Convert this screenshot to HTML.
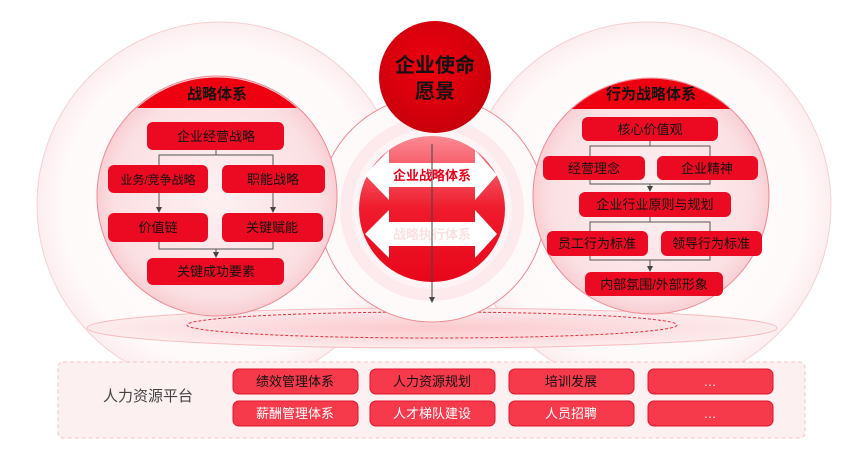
<!DOCTYPE html>
<html><head><meta charset="utf-8"><style>
body{margin:0;width:865px;height:446px;background:#fff;overflow:hidden}
svg text{font-family:"Liberation Sans","Noto Sans CJK SC",sans-serif;}
</style></head><body>
<svg width="865" height="446" viewBox="0 0 865 446" xmlns="http://www.w3.org/2000/svg">
<defs>
<radialGradient id="pale" cx="50%" cy="50%" r="50%"><stop offset="0" stop-color="#fff"/><stop offset="0.85" stop-color="#fffafa"/><stop offset="1" stop-color="#fdeef0"/></radialGradient>
<radialGradient id="sub" cx="50%" cy="50%" r="50%"><stop offset="0" stop-color="#fdf0f1"/><stop offset="0.85" stop-color="#fbe0e3"/><stop offset="1" stop-color="#f8cfd3"/></radialGradient>
<radialGradient id="topc" cx="45%" cy="40%" r="60%"><stop offset="0" stop-color="#f00010"/><stop offset="1" stop-color="#c8000a"/></radialGradient>
<linearGradient id="inner" x1="0" y1="0" x2="0" y2="1"><stop offset="0" stop-color="#fb8a94"/><stop offset="0.5" stop-color="#ef1b2c"/><stop offset="1" stop-color="#e8061a"/></linearGradient>
<radialGradient id="plat" cx="50%" cy="50%" r="50%"><stop offset="0" stop-color="#fbc9cd"/><stop offset="1" stop-color="#fdeced"/></radialGradient>
<marker id="ar" markerWidth="6" markerHeight="6" refX="3" refY="3" orient="auto"><path d="M0,0L6,3L0,6z" fill="#444"/></marker>
</defs>
<circle cx="220" cy="205" r="183" fill="url(#pale)" stroke="#f9cfd3" stroke-width="1"/>
<circle cx="648" cy="205" r="183" fill="url(#pale)" stroke="#f9cfd3" stroke-width="1"/>
<ellipse cx="432" cy="328" rx="345" ry="20" fill="url(#plat)" stroke="#f7bcc1"/>
<ellipse cx="432" cy="325" rx="245" ry="13" fill="none" stroke="#e8303f" stroke-dasharray="3,2"/>
<circle cx="432" cy="209" r="113" fill="#fffafa" stroke="#f08890" stroke-width="1"/>
<circle cx="432" cy="209" r="92" fill="#fdeaec"/>
<circle cx="432" cy="209" r="80" fill="#fef4f5"/>
<circle cx="432" cy="209" r="73" fill="url(#inner)"/>
<circle cx="217" cy="196" r="120" fill="url(#sub)" stroke="#f08a93"/>
<path d="M137,108 A120,120 0 0 1 297,108 Z" fill="#ee0010"/>
<text x="217" y="99" text-anchor="middle" font-size="15" font-weight="bold" fill="#111">战略体系</text>
<circle cx="651" cy="196" r="118" fill="url(#sub)" stroke="#f08a93"/>
<path d="M572,109 A118,118 0 0 1 730,109 Z" fill="#ee0010"/>
<text x="651" y="99" text-anchor="middle" font-size="15" font-weight="bold" fill="#111">行为战略体系</text>
<circle cx="435" cy="77" r="56" fill="url(#topc)"/>
<text x="435" y="72" text-anchor="middle" font-size="20" font-weight="bold" fill="#111">企业使命</text>
<text x="435" y="98" text-anchor="middle" font-size="20" font-weight="bold" fill="#111">愿景</text>
<path d="M365,175 L389,150 L389,163 L475,163 L475,150 L497,175 L475,200 L475,187 L389,187 L389,200 Z" fill="#fff"/>
<text x="432" y="180" text-anchor="middle" font-size="13" font-weight="bold" fill="#e8001a">企业战略体系</text>
<path d="M365,234 L389,210 L389,222 L475,222 L475,210 L497,234 L475,258 L475,246 L389,246 L389,258 Z" fill="#fff"/>
<text x="432" y="239" text-anchor="middle" font-size="13" font-weight="bold" fill="#fbe0e2">战略执行体系</text>
<line x1="432" y1="144" x2="432" y2="300" stroke="#444" stroke-width="1" marker-end="url(#ar)"/>
<g fill="none" stroke="#555" stroke-width="1">
<path d="M216,150V155M159,165V155H273V165"/>
<path d="M159,193V210" marker-end="url(#ar)"/><path d="M273,193V210" marker-end="url(#ar)"/>
<path d="M159,242V249H273V242"/><path d="M216,249V255" marker-end="url(#ar)"/>
<path d="M650,141V146M590,156V146H710V156"/>
<path d="M590,180V184H710V180"/><path d="M650,184V189" marker-end="url(#ar)"/>
<path d="M650,217V222M590,231V222H710V231"/>
<path d="M590,256V260H710V256"/><path d="M650,260V269" marker-end="url(#ar)"/>
</g>
<g fill="#ec0a22">
<rect x="147" y="122" width="137" height="28" rx="6"/>
<rect x="108" y="165" width="100" height="28" rx="6"/>
<rect x="222" y="165" width="103" height="28" rx="6"/>
<rect x="108" y="213" width="100" height="29" rx="6"/>
<rect x="222" y="213" width="101" height="29" rx="6"/>
<rect x="147" y="258" width="137" height="27" rx="6"/>
<rect x="582" y="117" width="136" height="24" rx="6"/>
<rect x="543" y="156" width="102" height="24" rx="6"/>
<rect x="657" y="156" width="101" height="24" rx="6"/>
<rect x="579" y="192" width="152" height="25" rx="6"/>
<rect x="547" y="231" width="101" height="25" rx="6"/>
<rect x="661" y="231" width="101" height="25" rx="6"/>
<rect x="585" y="272" width="138" height="24" rx="6"/>
</g>
<g font-size="13" fill="#111" text-anchor="middle">
<text x="216" y="141">企业经营战略</text>
<text x="158" y="184" font-size="12">业务/竞争战略</text>
<text x="273" y="184">职能战略</text>
<text x="158" y="232">价值链</text>
<text x="272" y="232">关键赋能</text>
<text x="216" y="276">关键成功要素</text>
<text x="650" y="134">核心价值观</text>
<text x="594" y="173">经营理念</text>
<text x="707" y="173">企业精神</text>
<text x="655" y="209">企业行业原则与规划</text>
<text x="597" y="248">员工行为标准</text>
<text x="711" y="248">领导行为标准</text>
<text x="654" y="289">内部氛围/外部形象</text>
</g>
<rect x="58" y="362" width="747" height="76" rx="5" fill="#fdf0f1" stroke="#f4c3c7" stroke-dasharray="4,3"/>
<text x="148" y="401" text-anchor="middle" font-size="15" fill="#444">人力资源平台</text>
<g fill="#f63a4c" stroke="#e0142a">
<rect x="233" y="369" width="125" height="25" rx="6"/><rect x="370" y="369" width="125" height="25" rx="6"/>
<rect x="509" y="369" width="125" height="25" rx="6"/><rect x="648" y="369" width="125" height="25" rx="6"/>
<rect x="233" y="401" width="125" height="25" rx="6"/><rect x="370" y="401" width="125" height="25" rx="6"/>
<rect x="509" y="401" width="125" height="25" rx="6"/><rect x="648" y="401" width="125" height="25" rx="6"/>
</g>
<g font-size="13" text-anchor="middle">
<text x="295" y="386" fill="#111">绩效管理体系</text><text x="432" y="386" fill="#111">人力资源规划</text>
<text x="571" y="386" fill="#111">培训发展</text><text x="710" y="386" fill="#fff">…</text>
<text x="295" y="418" fill="#fff">薪酬管理体系</text><text x="432" y="418" fill="#fff">人才梯队建设</text>
<text x="571" y="418" fill="#fff">人员招聘</text><text x="710" y="418" fill="#fff">…</text>
</g>
</svg>
</body></html>
